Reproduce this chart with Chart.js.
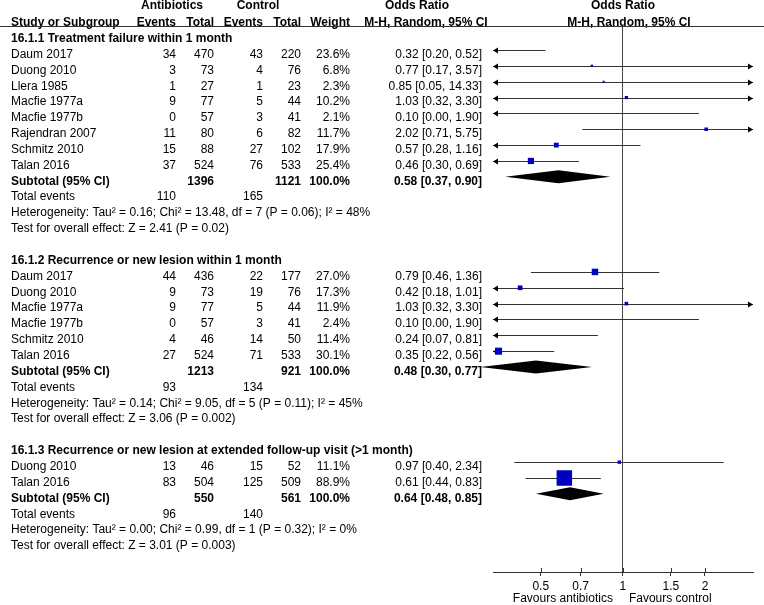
<!DOCTYPE html>
<html>
<head>
<meta charset="utf-8">
<script src="https://cdn.jsdelivr.net/npm/chart.js@4.4.1/dist/chart.umd.min.js"></script>
<style>
  body { margin: 0; background: #fff; }
</style>
</head>
<body>
<canvas id="forestChart" width="764" height="605"></canvas>
<script>
// ---- data ----
const groupTitles = [
  '16.1.1 Treatment failure within 1 month',
  '16.1.2 Recurrence or new lesion within 1 month',
  '16.1.3 Recurrence or new lesion at extended follow-up visit (>1 month)'
];
const studyNames = ['Daum 2017', 'Duong 2010', 'Llera 1985', 'Macfie 1977a', 'Macfie 1977b', 'Rajendran 2007', 'Schmitz 2010', 'Talan 2016',
  'Daum 2017', 'Duong 2010', 'Macfie 1977a', 'Macfie 1977b', 'Schmitz 2010', 'Talan 2016',
  'Duong 2010', 'Talan 2016'];
const studyGroups = [0, 0, 0, 0, 0, 0, 0, 0, 1, 1, 1, 1, 1, 1, 2, 2];
const abEvents = [34, 3, 1, 9, 0, 11, 15, 37, 44, 9, 9, 0, 4, 27, 13, 83];
const abTotals = [470, 73, 27, 77, 57, 80, 88, 524, 436, 73, 77, 57, 46, 524, 46, 504];
const ctEvents = [43, 4, 1, 5, 3, 6, 27, 76, 22, 19, 5, 3, 14, 71, 15, 125];
const ctTotals = [220, 76, 23, 44, 41, 82, 102, 533, 177, 76, 44, 41, 50, 533, 52, 509];
const weights = [23.6, 6.8, 2.3, 10.2, 2.1, 11.7, 17.9, 25.4, 27.0, 17.3, 11.9, 2.4, 11.4, 30.1, 11.1, 88.9];
const oddsRatios = [0.32, 0.77, 0.85, 1.03, 0.10, 2.02, 0.57, 0.46, 0.79, 0.42, 1.03, 0.10, 0.24, 0.35, 0.97, 0.61];
const ciLower = [0.20, 0.17, 0.05, 0.32, 0.00, 0.71, 0.28, 0.30, 0.46, 0.18, 0.32, 0.00, 0.07, 0.22, 0.40, 0.44];
const ciUpper = [0.52, 3.57, 14.33, 3.30, 1.90, 5.75, 1.16, 0.69, 1.36, 1.01, 3.30, 1.90, 0.81, 0.56, 2.34, 0.83];

const subAbTotals = [1396, 1213, 550];
const subCtTotals = [1121, 921, 561];
const subAbEvents = [110, 93, 96];
const subCtEvents = [165, 134, 140];
const subOdds = [0.58, 0.48, 0.64];
const subLower = [0.37, 0.30, 0.48];
const subUpper = [0.90, 0.77, 0.85];
const heterogeneity = [
  'Heterogeneity: Tau\u00b2 = 0.16; Chi\u00b2 = 13.48, df = 7 (P = 0.06); I\u00b2 = 48%',
  'Heterogeneity: Tau\u00b2 = 0.14; Chi\u00b2 = 9.05, df = 5 (P = 0.11); I\u00b2 = 45%',
  'Heterogeneity: Tau\u00b2 = 0.00; Chi\u00b2 = 0.99, df = 1 (P = 0.32); I\u00b2 = 0%'
];
const overallEffect = [
  'Test for overall effect: Z = 2.41 (P = 0.02)',
  'Test for overall effect: Z = 3.06 (P = 0.002)',
  'Test for overall effect: Z = 3.01 (P = 0.003)'
];
const xTicks = [0.5, 0.7, 1, 1.5, 2];
const xMin = 0.334, xMax = 3;

// ---- layout ----
const FONT = '"Liberation Sans", Arial, sans-serif';
const col = { study: 11, abEv: 176, abTot: 214, ctEv: 263, ctTot: 301, weight: 350, or: 482 };
const markerColor = '#0000c0';

// one row per text line, blank line between subgroups
const rows = [];
let r = 0;
groupTitles.forEach((t, g) => {
  rows.push({ type: 'title', g: g, r: r++ });
  studyNames.forEach((n, i) => {
    if (studyGroups[i] === g) rows.push({ type: 'study', g: g, i: i, r: r++ });
  });
  rows.push({ type: 'subtotal', g: g, r: r++ });
  rows.push({ type: 'events', g: g, r: r++ });
  rows.push({ type: 'het', g: g, r: r++ });
  rows.push({ type: 'test', g: g, r: r++ });
  r++;
});

const studyRows = rows.filter(x => x.type === 'study');
const pointData = studyRows.map(x => ({ x: oddsRatios[x.i], y: x.r }));
// box side grows with weight
const pointSizes = studyRows.map(x => Math.max(2, 15.5 * Math.pow(weights[x.i] / 88.9, 0.73)) / Math.SQRT2);

function fmt2(v) { return v.toFixed(2); }
function orText(o, lo, hi) { return fmt2(o) + ' [' + fmt2(lo) + ', ' + fmt2(hi) + ']'; }

function put(ctx, s, x, y, align, bold) {
  ctx.font = (bold ? 'bold ' : '') + '12px ' + FONT;
  ctx.textAlign = align;
  ctx.textBaseline = 'middle';
  ctx.fillStyle = '#000';
  ctx.fillText(s, x, y);
}

const forestPlugin = {
  id: 'forest',
  beforeDatasetsDraw(chart) {
    const ctx = chart.ctx;
    const xs = chart.scales.x, ys = chart.scales.y;
    ctx.save();
    // confidence intervals with arrows when clipped
    ctx.strokeStyle = '#333';
    ctx.fillStyle = '#000';
    ctx.lineWidth = 1;
    studyRows.forEach(row => {
      const i = row.i;
      const y = Math.round(ys.getPixelForValue(row.r)) + 0.5;
      const x1 = xs.getPixelForValue(Math.max(ciLower[i], xMin));
      const x2 = xs.getPixelForValue(Math.min(ciUpper[i], xMax));
      ctx.beginPath();
      ctx.moveTo(x1, y);
      ctx.lineTo(x2, y);
      ctx.stroke();
      if (ciLower[i] < xMin) {
        ctx.beginPath();
        ctx.moveTo(x1, y);
        ctx.lineTo(x1 + 5, y - 3);
        ctx.lineTo(x1 + 5, y + 3);
        ctx.closePath();
        ctx.fill();
      }
      if (ciUpper[i] > xMax) {
        ctx.beginPath();
        ctx.moveTo(x2, y);
        ctx.lineTo(x2 - 5, y - 3);
        ctx.lineTo(x2 - 5, y + 3);
        ctx.closePath();
        ctx.fill();
      }
    });
    // subtotal diamonds
    rows.filter(x => x.type === 'subtotal').forEach(row => {
      const g = row.g;
      const y = ys.getPixelForValue(row.r);
      ctx.beginPath();
      ctx.moveTo(xs.getPixelForValue(subLower[g]), y);
      ctx.lineTo(xs.getPixelForValue(subOdds[g]), y - 6.5);
      ctx.lineTo(xs.getPixelForValue(subUpper[g]), y);
      ctx.lineTo(xs.getPixelForValue(subOdds[g]), y + 6.5);
      ctx.closePath();
      ctx.fill();
    });
    ctx.restore();
  },
  afterDraw(chart) {
    const ctx = chart.ctx;
    const xs = chart.scales.x, ys = chart.scales.y;
    const ty = v => ys.getPixelForValue(v) + 4.5;
    ctx.save();

    // header
    put(ctx, 'Antibiotics', 172, ty(-2.05), 'center', true);
    put(ctx, 'Control', 258, ty(-2.05), 'center', true);
    put(ctx, 'Odds Ratio', 417, ty(-2.05), 'center', true);
    put(ctx, 'Odds Ratio', 623, ty(-2.05), 'center', true);
    put(ctx, 'Study or Subgroup', col.study, ty(-1), 'left', true);
    put(ctx, 'Events', col.abEv, ty(-1), 'right', true);
    put(ctx, 'Total', col.abTot, ty(-1), 'right', true);
    put(ctx, 'Events', col.ctEv, ty(-1), 'right', true);
    put(ctx, 'Total', col.ctTot, ty(-1), 'right', true);
    put(ctx, 'Weight', col.weight, ty(-1), 'right', true);
    put(ctx, 'M-H, Random, 95% CI', 426, ty(-1), 'center', true);
    put(ctx, 'M-H, Random, 95% CI', 629, ty(-1), 'center', true);
    ctx.strokeStyle = '#333';
    ctx.lineWidth = 1;
    ctx.beginPath();
    ctx.moveTo(0, chart.chartArea.top + 0.5);
    ctx.lineTo(chart.width, chart.chartArea.top + 0.5);
    ctx.stroke();

    rows.forEach(row => {
      const y = ty(row.r), g = row.g, i = row.i;
      if (row.type === 'title') {
        put(ctx, groupTitles[g], col.study, y, 'left', true);
      } else if (row.type === 'study') {
        put(ctx, studyNames[i], col.study, y, 'left');
        put(ctx, String(abEvents[i]), col.abEv, y, 'right');
        put(ctx, String(abTotals[i]), col.abTot, y, 'right');
        put(ctx, String(ctEvents[i]), col.ctEv, y, 'right');
        put(ctx, String(ctTotals[i]), col.ctTot, y, 'right');
        put(ctx, weights[i].toFixed(1) + '%', col.weight, y, 'right');
        put(ctx, orText(oddsRatios[i], ciLower[i], ciUpper[i]), col.or, y, 'right');
      } else if (row.type === 'subtotal') {
        put(ctx, 'Subtotal (95% CI)', col.study, y, 'left', true);
        put(ctx, String(subAbTotals[g]), col.abTot, y, 'right', true);
        put(ctx, String(subCtTotals[g]), col.ctTot, y, 'right', true);
        put(ctx, '100.0%', col.weight, y, 'right', true);
        put(ctx, orText(subOdds[g], subLower[g], subUpper[g]), col.or, y, 'right', true);
      } else if (row.type === 'events') {
        put(ctx, 'Total events', col.study, y, 'left');
        put(ctx, String(subAbEvents[g]), col.abEv, y, 'right');
        put(ctx, String(subCtEvents[g]), col.ctEv, y, 'right');
      } else if (row.type === 'het') {
        put(ctx, heterogeneity[g], col.study, y, 'left');
      } else if (row.type === 'test') {
        put(ctx, overallEffect[g], col.study, y, 'left');
      }
    });

    // tick marks also poke above the axis line
    const bottom = chart.chartArea.bottom;
    ctx.strokeStyle = '#333';
    xTicks.forEach(v => {
      const x = Math.round(xs.getPixelForValue(v)) + 0.5;
      ctx.beginPath();
      ctx.moveTo(x, bottom - 4);
      ctx.lineTo(x, bottom);
      ctx.stroke();
    });
    const one = xs.getPixelForValue(1);
    put(ctx, 'Favours antibiotics', one - 10, 598.5, 'right');
    put(ctx, 'Favours control', one + 6, 598.5, 'left');
    ctx.restore();
  }
};

const ctx = document.getElementById('forestChart').getContext('2d');
const forestChart = new Chart(ctx, {
  type: 'scatter',
  data: {
    datasets: [{
      data: pointData,
      pointStyle: 'rect',
      pointRadius: pointSizes,
      pointHoverRadius: pointSizes,
      pointBackgroundColor: markerColor,
      pointBorderColor: markerColor,
      pointBorderWidth: 0,
      clip: 0
    }]
  },
  options: {
    responsive: false,
    animation: false,
    events: [],
    layout: { padding: { left: 493, right: 11, top: 26, bottom: 0 } },
    plugins: { legend: { display: false }, tooltip: { enabled: false } },
    scales: {
      x: {
        type: 'logarithmic',
        bounds: 'data',
        min: xMin,
        max: xMax,
        afterBuildTicks: scale => { scale.ticks = xTicks.map(v => ({ value: v })); },
        afterFit: scale => { scale.height = 33; },
        ticks: {
          autoSkip: false,
          maxRotation: 0,
          padding: 3,
          color: '#000',
          font: { family: FONT, size: 12 },
          callback: v => String(v)
        },
        grid: {
          color: c => (c.tick && c.tick.value === 1 ? '#444' : 'rgba(0,0,0,0)'),
          tickColor: '#333',
          tickLength: 4
        },
        border: { display: true, color: '#333' }
      },
      y: {
        type: 'linear',
        display: false,
        reverse: true,
        min: -0.514,
        max: 33.93
      }
    }
  },
  plugins: [forestPlugin]
});
</script>
</body>
</html>
